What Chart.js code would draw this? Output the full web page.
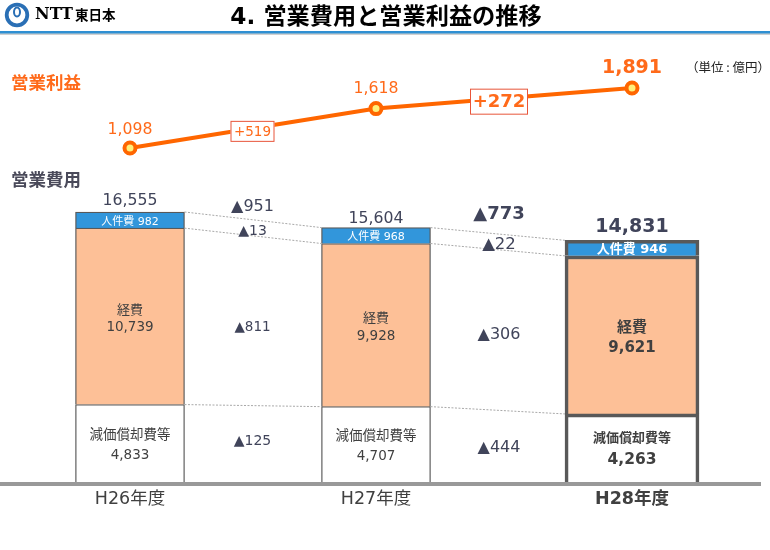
<!DOCTYPE html>
<html lang="ja"><head><meta charset="utf-8">
<style>html,body{margin:0;padding:0;background:#fff}canvas{display:block}</style>
<script src="https://cdn.jsdelivr.net/npm/chart.js@4/dist/chart.umd.js"></script>
</head><body><canvas id="c" width="770" height="550"></canvas>
<script>
const categories = ['H26年度', '', 'H27年度', '', 'H28年度'];
const yearSlots = [0, 2, 4];
const gapSlots = [1, 3];
const depreciation = [4833, 4707, 4263];
const expenses = [10739, 9928, 9621];
const personnel = [982, 968, 946];
const totals = [16555, 15604, 14831];
const operatingProfit = [1098, 1618, 1891];
const profitChange = [519, 272];
const totalChange = [951, 773];
const personnelChange = [13, 22];
const expensesChange = [811, 306];
const depreciationChange = [125, 444];

const FONT = '"DejaVu Sans","Noto Sans CJK JP",sans-serif';
const CJK = '"Noto Sans CJK JP",sans-serif';
const INK = '#404040', NAVY = '#40445a', ORANGE = '#ff6a1a', LINE = '#ff6600';
const fmt = n => n.toLocaleString('en-US');

// Category axis whose slots are not evenly spaced (the source slide is hand laid out)
const slotFractions = [0.17105, 0.33224, 0.49474, 0.65658, 0.83158];
class SlottedCategory extends Chart.CategoryScale {
  getPixelForValue(v) {
    const i = typeof v === 'number' ? v : this.parse(v);
    return i === null ? NaN : this.left + slotFractions[i] * this.width;
  }
}
SlottedCategory.id = 'slottedCategory';
SlottedCategory.defaults = Chart.CategoryScale.defaults;
Chart.register(SlottedCategory);

const pick = (arr, years) => categories.map((_, s) => {
  const y = yearSlots.indexOf(s);
  return y >= 0 && years.includes(y) ? arr[y] : null;
});
const barSet = (label, arr, color, years, thick, border) => ({
  type: 'bar', label, data: pick(arr, years), backgroundColor: color,
  borderColor: '#595959', borderWidth: border, barThickness: thick,
  stack: 'cost', xAxisID: 'x', yAxisID: 'yBar', order: 2
});

const annotations = {
  id: 'annotations',
  afterLayout(chart) {
    // the slide title sits on the centre of the page, not of the plot
    chart.titleBlock.left += 6; chart.titleBlock.right += 6;
  },
  beforeDraw(chart) {
    const c = chart.ctx;
    c.save();
    // header rule
    c.fillStyle = '#d0d0d0'; c.fillRect(0, 33, 770, 2);
    c.fillStyle = '#2f8fd2'; c.fillRect(0, 31, 770, 2.5);
    // logo
    c.strokeStyle = '#2a6fb5'; c.lineWidth = 3.8;
    c.beginPath(); c.arc(17, 15, 10.3, 0, Math.PI * 2); c.stroke();
    c.lineWidth = 2;
    c.beginPath(); c.ellipse(17, 12, 3, 4.5, 0, 0, Math.PI * 2); c.stroke();
    c.fillStyle = '#000'; c.textBaseline = 'middle'; c.textAlign = 'left';
    c.font = 'bold 16px "DejaVu Serif"'; c.fillText('NTT', 35, 15);
    c.font = 'bold 13.5px ' + CJK; c.fillText('東日本', 75, 15);
    c.restore();
  },
  afterDatasetsDraw(chart) {
    const c = chart.ctx, xs = chart.scales.x;
    const el = (series, y) => chart.getDatasetMeta(y === 2 ? series + 3 : series).data[yearSlots[y]];
    const text = (t, x, y, font, color, align = 'center') => {
      c.font = font; c.fillStyle = color; c.textAlign = align; c.textBaseline = 'middle';
      c.fillText(t, x, y);
    };
    c.save();
    // connectors between the bars
    c.strokeStyle = '#a8a8a8'; c.lineWidth = 1; c.setLineDash([2, 1.5]);
    [0, 1].forEach(y => [0, 1, 2].forEach(s => {
      const a = el(s, y), b = el(s, y + 1);
      c.beginPath(); c.moveTo(a.x + a.width / 2, a.y); c.lineTo(b.x - b.width / 2, b.y); c.stroke();
    }));
    c.setLineDash([]);

    // labels inside the bars and totals
    const mid = e => (e.y + e.base) / 2;
    yearSlots.forEach((_, y) => {
      const hi = y === 2, w = hi ? 'bold ' : '';
      const p = el(2, y), e = el(1, y), d = el(0, y);
      text('人件費 ' + personnel[y], p.x, mid(p) + (hi ? 2 : 2), w + (hi ? '13px ' : '11px ') + FONT, '#fff');
      const sp1 = hi ? 10 : 8.5, dy1 = hi ? 3 : 2.5;
      text('経費', e.x, mid(e) - sp1 + dy1, w + (hi ? '15px ' : '13px ') + FONT, INK);
      text(fmt(expenses[y]), e.x, mid(e) + sp1 + dy1, w + (hi ? '15px ' : '13.5px ') + FONT, INK);
      const sp2 = hi ? 10.5 : 10, dy2 = hi ? 0 : 1.5;
      text('減価償却費等', d.x, mid(d) - sp2 + dy2, w + (hi ? '13px ' : '13.5px ') + FONT, INK);
      text(fmt(depreciation[y]), d.x, mid(d) + sp2 + dy2, w + (hi ? '15.5px ' : '13.5px ') + FONT, INK);
      const off = [11, 9, 13][y];
      text(fmt(totals[y]), p.x, p.y - off, hi ? 'bold 19px ' + FONT : '15.7px ' + FONT, NAVY);
    });

    // year-on-year decreases, placed relative to the band they describe
    const bandRows = [
      { vals: totalChange, series: 2, edge: 'top', off: [-13, -20], font: ['16px ', 'bold 18px '] },
      { vals: personnelChange, series: 1, edge: 'top', off: [-4, -4.5], font: ['14px ', '16.5px '] },
      { vals: expensesChange, series: 1, edge: 'mid', off: [7, 4.5], font: ['13.5px ', '16px '] },
      { vals: depreciationChange, series: 0, edge: 'mid', off: [-3, 1], font: ['14px ', '16px '] }
    ];
    bandRows.forEach(r => gapSlots.forEach((slot, g) => {
      const a = el(r.series, g), b = el(r.series, g + 1);
      const ya = r.edge === 'top' ? a.y : mid(a), yb = r.edge === 'top' ? b.y : mid(b);
      text('▲' + r.vals[g], xs.getPixelForValue(slot), (ya + yb) / 2 + r.off[g], r.font[g] + FONT, NAVY);
    }));

    // profit line labels
    const lm = chart.getDatasetMeta(6).data;
    yearSlots.forEach((s, y) => {
      const pt = lm[s], hi = y === 2;
      text(fmt(operatingProfit[y]), pt.x, pt.y - [18, 20, 20][y], (hi ? 'bold 19px ' : '15.7px ') + FONT, ORANGE);
    });
    gapSlots.forEach((slot, g) => {
      const hi = g === 1;
      const x = xs.getPixelForValue(slot);
      const a = lm[yearSlots[g]], b = lm[yearSlots[g + 1]];
      const y = a.y + (b.y - a.y) * (x - a.x) / (b.x - a.x) + 3;
      const bw = hi ? 58 : 44, bh = hi ? 26 : 21;
      c.fillStyle = '#fff'; c.strokeStyle = '#e8553a'; c.lineWidth = 1;
      c.fillRect(x - bw / 2, y - bh / 2, bw, bh);
      c.strokeRect(x - bw / 2 + .5, y - bh / 2 + .5, bw - 1, bh - 1);
      text('+' + profitChange[g], x, y + 1, (hi ? 'bold 18px ' : '13.5px ') + FONT, ORANGE);
    });

    // section captions
    text('営業利益', 11, 82, 'bold 17.5px ' + CJK, ORANGE, 'left');
    text('営業費用', 11, 179, 'bold 17.5px ' + CJK, '#4a4a5a', 'left');
    text('（単位 : 億円）', 686, 67, '12.5px ' + CJK, '#222', 'left');
    c.restore();
  }
};

new Chart(document.getElementById('c'), {
  data: {
    labels: categories,
    datasets: [
      barSet('減価償却費等', depreciation, '#ffffff', [0, 1], 109, 1.3),
      barSet('経費', expenses, '#fdc097', [0, 1], 109, 1.3),
      barSet('人件費', personnel, '#3296db', [0, 1], 109, 1.3),
      barSet('減価償却費等 H28', depreciation, '#ffffff', [2], 134, 3.6),
      barSet('経費 H28', expenses, '#fdc097', [2], 134, 3.6),
      barSet('人件費 H28', personnel, '#3296db', [2], 134, 3.6),
      { type: 'line', label: '営業利益', data: pick(operatingProfit, [0, 1, 2]), spanGaps: true,
        borderColor: LINE, borderWidth: 4, tension: 0,
        pointRadius: 5.5, pointBorderWidth: 4, pointBorderColor: LINE, pointBackgroundColor: '#fff07a',
        xAxisID: 'x', yAxisID: 'yLine', order: 1 }
    ]
  },
  options: {
    responsive: false, animation: false, devicePixelRatio: 1,
    layout: { autoPadding: false, padding: { left: 0, right: 10, top: 0, bottom: 0 } },
    plugins: {
      legend: { display: false }, tooltip: { enabled: false },
      title: { display: true, text: '4. 営業費用と営業利益の推移', color: '#000',
        font: { family: FONT, size: 23.2, weight: 'bold', lineHeight: 1.2 },
        padding: { top: 4.5, bottom: 7.6 } }
    },
    scales: {
      x: { type: 'slottedCategory', stacked: true, offset: false,
        grid: { display: false },
        border: { display: true, color: '#999999', width: 4, z: 1 },
        ticks: { autoSkip: false, maxRotation: 0, minRotation: 0, padding: -3, color: INK,
          font: c => ({ family: FONT, size: 17.5, weight: c.index === 4 ? 'bold' : 'normal' }) },
        afterFit: s => { s.height = 66; s.paddingLeft = 0; s.paddingRight = 0; } },
      yBar: { stacked: true, display: false, min: 0, max: 27024 },
      yLine: { display: false, min: -3341, max: 2525 }
    }
  },
  plugins: [annotations]
});
</script></body></html>
